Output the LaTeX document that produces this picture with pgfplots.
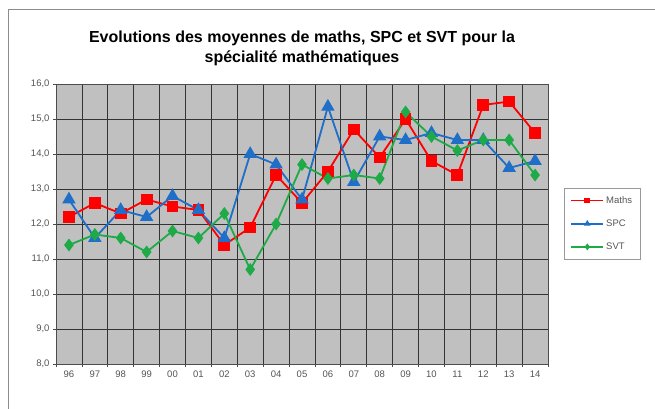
\documentclass[border=0pt]{standalone}
\usepackage{pgfplots}
\pgfplotsset{compat=1.18}
\usepackage{fontspec}
\setmainfont{Liberation Sans}
\definecolor{plotbg}{HTML}{C0C0C0}
\definecolor{mred}{HTML}{FF0000}
\definecolor{mblue}{HTML}{1F6EC8}
\definecolor{mgreen}{HTML}{1EAA46}
\definecolor{tickgray}{HTML}{555555}
\begin{document}
\begin{tikzpicture}
\useasboundingbox (0pt,0pt) rectangle (655pt,408pt);
\fill[white] (0pt,0pt) rectangle (655pt,408pt);
\draw[black!45, line width=1pt] (8pt,-10pt) -- (8pt,398pt) -- (670pt,398pt);
\node[align=center, font=\bfseries\fontsize{16}{20}\selectfont] at (302pt,360pt)
  {Evolutions des moyennes de maths, SPC et SVT pour la\\spécialité mathématiques};
\begin{axis}[
  at={(56pt,44pt)}, anchor=south west,
  scale only axis, width=492pt, height=280pt,
  xmin=-0.5, xmax=18.5, ymin=8, ymax=16,
  axis background/.style={fill=plotbg},
  axis line style={black!70, line width=0.8pt},
  xtick={-0.5,0.5,...,18.5}, xticklabels={},
  extra x ticks={0,1,...,18},
  extra x tick labels={96,97,98,99,00,01,02,03,04,05,06,07,08,09,10,11,12,13,14},
  extra x tick style={major tick length=0pt, grid=none},
  ytick={8,9,...,16},
  tick align=outside, major tick length=3pt,
  xtick pos=bottom, ytick pos=left,
  grid=major,
  major grid style={black!80, line width=0.7pt},
  tick style={black!70, line width=0.7pt},
  tick label style={font=\fontsize{9.5}{11}\selectfont, text=tickgray},
  yticklabel style={/pgf/number format/.cd, fixed, fixed zerofill, precision=1, use comma, assume math mode=true},
  xticklabel style={yshift=-3pt},
  legend style={at={(1.0325,0.629)}, anchor=north west, draw=black!40, line width=0.8pt,
    font=\fontsize{9.5}{11}\selectfont, text=tickgray, row sep=11pt, inner xsep=6pt, inner ysep=6pt},
  legend cell align=left,
  legend image code/.code={\draw[#1, mark size=2pt, mark repeat=2, mark phase=2] plot coordinates {(0pt,0pt)(16pt,0pt)(32pt,0pt)};},
]
\addplot[mred, line width=1.8pt, mark=square*, mark size=5pt] coordinates {
(0,12.2)(1,12.6)(2,12.3)(3,12.7)(4,12.5)(5,12.4)(6,11.4)(7,11.9)(8,13.4)(9,12.6)
(10,13.5)(11,14.7)(12,13.9)(13,15.0)(14,13.8)(15,13.4)(16,15.4)(17,15.5)(18,14.6)};
\addlegendentry{Maths}
\addplot[mblue, line width=1.8pt, mark=triangle*, mark size=6pt] coordinates {
(0,12.7)(1,11.6)(2,12.4)(3,12.2)(4,12.8)(5,12.4)(6,11.6)(7,14.0)(8,13.7)(9,12.7)
(10,15.35)(11,13.2)(12,14.5)(13,14.4)(14,14.6)(15,14.4)(16,14.4)(17,13.6)(18,13.8)};
\addlegendentry{SPC}
\addplot[mgreen, line width=1.8pt, mark=diamond*, mark size=5pt] coordinates {
(0,11.4)(1,11.7)(2,11.6)(3,11.2)(4,11.8)(5,11.6)(6,12.3)(7,10.7)(8,12.0)(9,13.7)
(10,13.3)(11,13.4)(12,13.3)(13,15.2)(14,14.5)(15,14.1)(16,14.4)(17,14.4)(18,13.4)};
\addlegendentry{SVT}
\end{axis}
\end{tikzpicture}
\end{document}
